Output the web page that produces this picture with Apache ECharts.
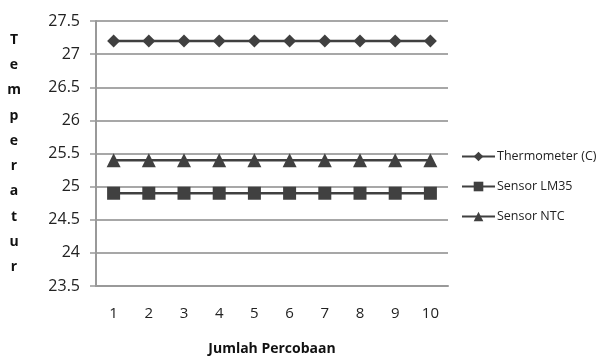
<!DOCTYPE html>
<html><head><meta charset="utf-8">
<script src="https://cdn.jsdelivr.net/npm/echarts@6/dist/echarts.min.js"></script>
<style>html,body{margin:0;padding:0;background:#fff}#c{width:605px;height:356px}</style>
</head><body><div id="c"></div>
<script>
const categories = ['1','2','3','4','5','6','7','8','9','10'];
const thermometer = [27.2,27.2,27.2,27.2,27.2,27.2,27.2,27.2,27.2,27.2];
const lm35 = [24.9,24.9,24.9,24.9,24.9,24.9,24.9,24.9,24.9,24.9];
const ntc = [25.4,25.4,25.4,25.4,25.4,25.4,25.4,25.4,25.4,25.4];
const seriesNames = ['Thermometer (C)','Sensor LM35','Sensor NTC'];
const yTitle = 'Temperatur';
const xTitle = 'Jumlah Percobaan';

const chart = echarts.init(document.getElementById('c'));
const font = 'Open Sans';
const lineColor = '#404040';
function mk(name, data, symbol, size){
  return {name, type:'line', data, symbol, symbolSize:size, showSymbol:true,
    lineStyle:{color:lineColor,width:2.5}, itemStyle:{color:lineColor},
    animation:false};
}
chart.setOption({
  animation:false,
  grid:{left:96,right:157,top:21,bottom:70,outerBoundsMode:'none',containLabel:false},
  legend:{orient:'vertical',left:456,top:145,itemGap:17,itemWidth:33,itemHeight:12,
    textStyle:{fontFamily:font,fontSize:12.5,color:'#222',padding:[0,0,0,-3]},
    data:seriesNames},
  xAxis:{type:'category',data:categories,boundaryGap:true,
    axisLine:{lineStyle:{color:'#999',width:2}},
    axisTick:{alignWithLabel:false,length:5,lineStyle:{color:'#999',width:1.5}},
    axisLabel:{fontFamily:font,fontSize:15,color:'#222',margin:20},
    name:xTitle,nameLocation:'middle',nameGap:56,
    nameTextStyle:{fontFamily:font,fontSize:14,fontWeight:'bold',color:'#111'}},
  yAxis:{type:'value',min:23.5,max:27.5,interval:0.5,
    axisLine:{show:true,lineStyle:{color:'#999',width:2}},
    axisTick:{show:true,length:6,lineStyle:{color:'#999',width:1.5}},
    splitLine:{lineStyle:{color:'#8a8a8a',width:1.5}},
    axisLabel:{fontFamily:font,fontSize:16,color:'#222',margin:16,
      formatter:v=>String(v)},
    name:yTitle.split('').join('\n'),nameLocation:'middle',nameRotate:0,nameGap:82,
    nameTextStyle:{fontFamily:font,fontSize:14,fontWeight:'bold',color:'#111',lineHeight:25.3,align:'center'}},
  series:[mk(seriesNames[0],thermometer,'diamond',13),mk(seriesNames[1],lm35,'rect',13),mk(seriesNames[2],ntc,'triangle',14)]
});
</script></body></html>
